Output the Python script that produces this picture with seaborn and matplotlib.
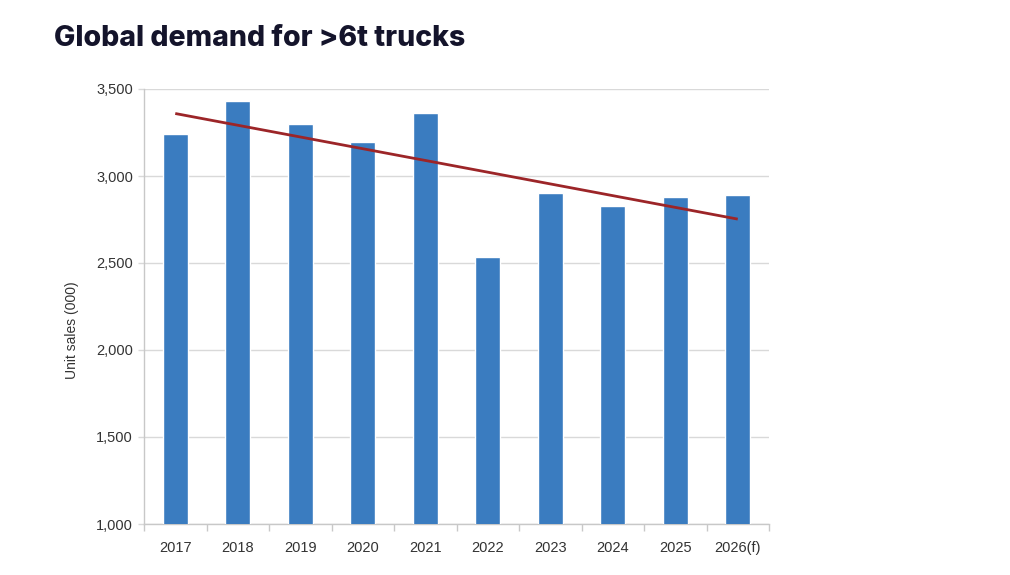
import numpy as np
import pandas as pd
import matplotlib
matplotlib.use('Agg')
import matplotlib.pyplot as plt
import seaborn as sns

# data (unit sales, thousands)
years = ['2017', '2018', '2019', '2020', '2021', '2022', '2023', '2024', '2025', '2026(f)']
unit_sales = [3242, 3431, 3299, 3196, 3362, 2533, 2902, 2825, 2877, 2890]
y_ticks = [1000, 1500, 2000, 2500, 3000, 3500]

df = pd.DataFrame({'year': years, 'sales': unit_sales})

sns.set_theme(style='white')
plt.rcParams['font.family'] = ['Liberation Sans', 'DejaVu Sans']

fig = plt.figure(figsize=(10.1, 5.75), dpi=100)
ax = fig.add_axes([144 / 1010, 1 - 524 / 575, (769 - 144) / 1010, (524 - 89) / 575])

sns.barplot(data=df, x='year', y='sales', color='#3a7cc0', saturation=1,
            width=0.4, ax=ax, zorder=3)

# linear trend line across bar centres
xpos = np.arange(len(years))
slope, icpt = np.polyfit(xpos, unit_sales, 1)
ax.plot(xpos, slope * xpos + icpt, color='#9c2528', linewidth=2.0, zorder=4,
        solid_capstyle='butt')

ax.set_ylim(1000, 3500)
ax.set_xlim(-0.5, len(years) - 0.5)
ax.set_yticks(y_ticks)
ax.set_yticklabels(['{:,}'.format(v) for v in y_ticks])
ax.yaxis.grid(True, color='#d9d9d9', linewidth=1.0, zorder=0)
ax.xaxis.grid(False)

# ticks between categories on x
ax.set_xticks(np.arange(-0.5, len(years), 1.0), minor=True)
ax.tick_params(axis='x', which='major', length=0, pad=12, labelsize=10.5, labelcolor='#333333')
ax.tick_params(axis='x', which='minor', length=5, width=1, color='#c8c8c8', bottom=True)
ax.tick_params(axis='y', which='major', length=4, width=1, color='#d9d9d9', left=True,
               pad=4, labelsize=10.5, labelcolor='#333333')

for side in ['top', 'right']:
    ax.spines[side].set_visible(False)
for side in ['left', 'bottom']:
    ax.spines[side].set_color('#c8c8c8')
    ax.spines[side].set_linewidth(1.0)

ax.set_xlabel('')
ax.set_ylabel('Unit sales (000)', fontsize=10, color='#333333')
ax.yaxis.set_label_coords(-0.104, 0.446)

fig.text(54 / 1010, 1 - 38 / 575, 'Global demand for >6t trucks', fontsize=20.5,
         fontweight='heavy', color='#14142b', va='center', ha='left', family=['Inter', 'DejaVu Sans'])

fig.savefig('out.png', dpi=100, facecolor='white')
